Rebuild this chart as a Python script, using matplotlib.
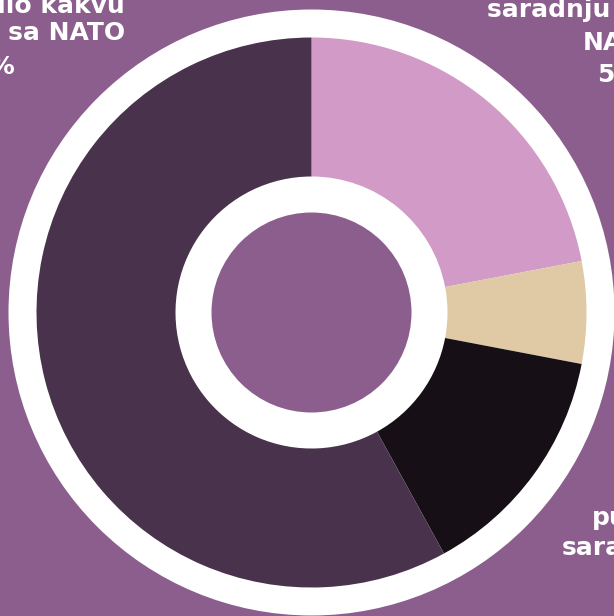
import matplotlib
matplotlib.use("Agg")
import matplotlib.pyplot as plt
from matplotlib.patches import Circle

# Data
categories = ["Za ograničenu saradnju sa EU i NATO", "Neodlučni", "Za punu saradnju", "Ne želi bilo kakvu saradnju sa NATO"]
values = [22, 6, 14, 58]
colors = ["#D19AC7", "#DFCAA5", "#161016", "#49324B"]
bg = "#8B5E8D"

W, H = 614, 616
fig = plt.figure(figsize=(W / 100, H / 100), dpi=100, facecolor=bg)
ax = fig.add_axes([0, 0, 1, 1])
ax.set_facecolor(bg)

cx, cy = 311.5, H - 312.5

ax.add_patch(Circle((cx, cy), 303, facecolor="white", edgecolor="none", zorder=1))
wedges, _ = ax.pie(values, colors=colors, startangle=90, counterclock=False,
                   radius=275, center=(cx, cy),
                   wedgeprops=dict(width=139, edgecolor="none", linewidth=0))
for w in wedges:
    w.set_zorder(2)
ax.add_patch(Circle((cx, cy), 100, facecolor=bg, edgecolor="none", zorder=3))

ax.set_xlim(0, W)
ax.set_ylim(0, H)
ax.set_aspect("equal")
ax.axis("off")

fs = 18
kw = dict(color="white", fontsize=fs, fontweight="bold", family="DejaVu Sans",
          va="baseline", zorder=5)

# Top-left label
ax.text(125, H - 13, "Ne želi bilo kakvu", ha="right", **kw)
ax.text(125, H - 40, "saradnju sa NATO", ha="right", **kw)
ax.text(15, H - 74, f"{values[0]}%", ha="right", **kw)

# Top-right label
ax.text(487, H + 18, "Za ograničenu", ha="left", **kw)
ax.text(487, H - 17, "saradnju sa EU i", ha="left", **kw)
ax.text(583, H - 50, "NATO", ha="left", **kw)
ax.text(597, H - 82, f"{values[3]}%", ha="left", **kw)

# Bottom-right label
ax.text(592, H - 525, "punu", ha="left", **kw)
ax.text(562, H - 555, "saradnju", ha="left", **kw)

fig.savefig("out.png", dpi=100, facecolor=bg)
